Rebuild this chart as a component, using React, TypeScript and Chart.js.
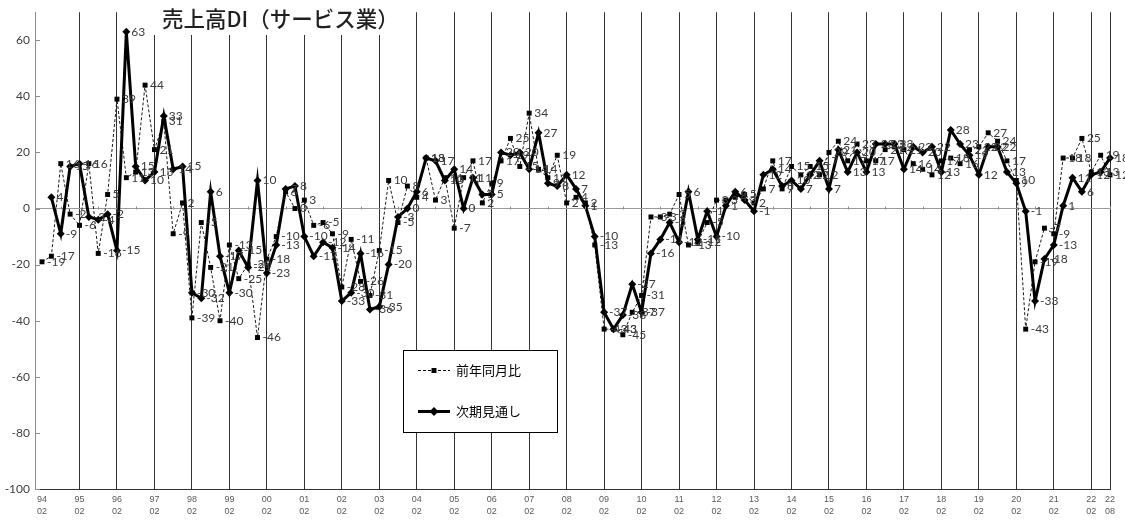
import React, { useEffect, useRef } from 'react';
import { Chart, registerables } from 'chart.js';

Chart.register(...registerables);

const titleText = '売上高DI（サービス業）';
const seriesNames = ['前年同月比', '次期見通し'];

const years = ['94','95','96','97','98','99','00','01','02','03','04','05','06','07','08','09','10','11','12','13','14','15','16','17','18','19','20','21','22'];
const quarterMonths = ['02','05','08','11'];
const lastCategory = '22/08';

const categories: string[] = [];
for (const y of years) {
  for (const m of quarterMonths) {
    if (categories.length && categories[categories.length - 1] === lastCategory) break;
    categories.push(`${y}/${m}`);
  }
}

// 前年同月比 (dashed, squares)
const prevYearValues: (number | null)[] = [
  -19, -17, 16, -2, -6, 16, -16, 5, 39,
  11, 13, 44, 21, 31, -9, 2, -39, -5, -21, -40,
  -13, -25, -20, -46, -18, -10, 6, 0, 3, -6,
  -5, -9, -28, -11, -26, -31, -15, 10, -5, 8,
  4, 18, 3, 11, -7, 11, 17, 2, 9, 17,
  25, 15, 34, 14, 11, 19, 2, 4, 2, -13,
  -43, -43, -45, -37, -31, -3, -3, -2, 5, -13,
  -12, -5, 3, 3, 4, 5, 2, 7, 17, 7,
  15, 12, 15, 12, 20, 24, 17, 23, 17, 17,
  21, 22, 21, 16, 14, 12, 17, 18, 16, 21,
  22, 27, 24, 17, 10, -43, -19, -7, -9, 18,
  18, 25, 13, 19, 12,
];

// 次期見通し (thick solid, diamonds)
const outlookValues: (number | null)[] = [
  null, 4, -9, 15, 16, -3, -4, -2, -15,
  63, 15, 10, 13, 33, 14, 15, -30, -32, 6, -17,
  -30, -15, -21, 10, -23, -13, 7, 8, -10, -17,
  -12, -14, -33, -30, -16, -36, -35, -20, -3, 0,
  6, 18, 17, 10, 14, 0, 11, 5, 5, 20,
  19, 20, 14, 27, 9, 8, 12, 7, 1, -10,
  -37, -43, -38, -27, -37, -16, -11, -5, -12, 6,
  -11, -1, -10, 1, 6, 3, -1, 12, 14, 8,
  10, 7, 12, 17, 7, 21, 13, 20, 13, 23,
  23, 23, 14, 22, 20, 22, 13, 28, 23, 19,
  12, 22, 22, 13, 9, -1, -33, -18, -13, 1,
  11, 6, 12, 13, 18,
];

const yTickValues = [-100, -80, -60, -40, -20, 0, 20, 40, 60];
const yMin = -100;
const yMax = 70;

// x ticks: every "02" quarter plus the last period
const xTickIndexes: number[] = categories
  .map((c, i) => (c.endsWith('/02') || i === categories.length - 1 ? i : -1))
  .filter((i) => i >= 0);
const xTickLabels: string[][] = xTickIndexes.map((i) => categories[i].split('/'));

const LABEL_FONT = '12px Lato, "Liberation Sans", sans-serif';
const CJK_FONT = '"Noto Sans CJK JP", "Noto Sans", sans-serif';

const dataLabelPlugin = {
  id: 'dataLabelsCustom',
  afterDatasetsDraw(chart: any) {
    const ctx = chart.ctx;
    ctx.save();
    ctx.font = LABEL_FONT;
    ctx.fillStyle = '#3a3a3a';
    ctx.textBaseline = 'middle';
    ctx.textAlign = 'left';
    chart.data.datasets.forEach((ds: any, di: number) => {
      const meta = chart.getDatasetMeta(di);
      meta.data.forEach((el: any, i: number) => {
        const v = ds.data[i] && ds.data[i].y;
        if (v === null || v === undefined || el.skip) return;
        ctx.fillText(String(v), el.x + 5, el.y);
      });
    });
    ctx.restore();
  },
};

function drawSquare(ctx: CanvasRenderingContext2D, x: number, y: number, s: number) {
  ctx.fillRect(x - s / 2, y - s / 2, s, s);
}
function drawDiamond(ctx: CanvasRenderingContext2D, x: number, y: number, r: number) {
  ctx.beginPath();
  ctx.moveTo(x, y - r);
  ctx.lineTo(x + r, y);
  ctx.lineTo(x, y + r);
  ctx.lineTo(x - r, y);
  ctx.closePath();
  ctx.fill();
}

const overlayPlugin = {
  id: 'overlayCustom',
  afterDraw(chart: any) {
    const { ctx, chartArea, scales } = chart;
    const xs = scales.x;
    const ys = scales.y;
    ctx.save();
    // small tick marks on the zero line
    const y0 = Math.round(ys.getPixelForValue(0)) + 0.5;
    ctx.strokeStyle = '#8c8c8c';
    ctx.lineWidth = 1;
    for (let i = 2; i < categories.length; i += 4) {
      const px = Math.round(xs.getPixelForValue(i)) + 0.5;
      ctx.beginPath();
      ctx.moveTo(px, y0 - 3);
      ctx.lineTo(px, y0);
      ctx.stroke();
    }
    // inward ticks on the value axis
    yTickValues.forEach((v) => {
      const py = Math.round(ys.getPixelForValue(v)) + 0.5;
      ctx.beginPath();
      ctx.moveTo(chartArea.left, py);
      ctx.lineTo(chartArea.left + 5, py);
      ctx.stroke();
    });

    // title box
    ctx.fillStyle = '#ffffff';
    ctx.fillRect(149, 0, 253, 35);
    ctx.fillStyle = '#1f1f1f';
    ctx.font = `500 21.5px ${CJK_FONT}`;
    ctx.textBaseline = 'middle';
    ctx.textAlign = 'left';
    ctx.fillText(titleText, 162, 19);

    // legend box
    const lx = 403.5, ly = 350.5, lw = 154, lh = 82;
    ctx.fillStyle = '#ffffff';
    ctx.fillRect(lx, ly, lw, lh);
    ctx.strokeStyle = '#000';
    ctx.lineWidth = 1;
    ctx.strokeRect(lx, ly, lw, lh);

    const r1 = 370.5, r2 = 411.5;
    // dashed entry
    ctx.setLineDash([3, 2]);
    ctx.beginPath();
    ctx.moveTo(418, r1);
    ctx.lineTo(450, r1);
    ctx.stroke();
    ctx.setLineDash([]);
    ctx.fillStyle = '#000';
    drawSquare(ctx, 434, r1, 5);
    // solid entry
    ctx.lineWidth = 3;
    ctx.beginPath();
    ctx.moveTo(418, r2);
    ctx.lineTo(450, r2);
    ctx.stroke();
    drawDiamond(ctx, 434, r2, 4.5);

    ctx.fillStyle = '#000';
    ctx.font = `13px ${CJK_FONT}`;
    ctx.fillText(seriesNames[0], 456, r1);
    ctx.fillText(seriesNames[1], 456, r2);
    ctx.restore();
  },
};

export default function App() {
  const canvasRef = useRef<HTMLCanvasElement>(null);

  useEffect(() => {
    const canvas = canvasRef.current;
    if (!canvas) return;
    const chart = new Chart(canvas, {
      type: 'line',
      data: {
        datasets: [
          {
            label: seriesNames[0],
            data: prevYearValues.map((v, i) => ({ x: i, y: v })),
            borderColor: '#1a1a1a',
            borderWidth: 1,
            borderDash: [3, 2],
            pointStyle: 'rect',
            pointRadius: 3.5,
            pointBackgroundColor: '#000',
            pointBorderColor: '#000',
            pointBorderWidth: 0,
            tension: 0,
            order: 1,
            clip: false,
          } as any,
          {
            label: seriesNames[1],
            data: outlookValues.map((v, i) => ({ x: i, y: v })),
            borderColor: '#000',
            borderWidth: 3,
            pointStyle: 'rectRot',
            pointRadius: 4,
            pointBackgroundColor: '#000',
            pointBorderColor: '#000',
            pointBorderWidth: 0,
            tension: 0,
            order: 0,
            clip: false,
          } as any,
        ],
      },
      options: {
        animation: false,
        responsive: false,
        devicePixelRatio: 1,
        layout: { padding: { left: 0, right: 15, top: 12, bottom: 0 } },
        plugins: {
          legend: { display: false },
          tooltip: { enabled: false },
          title: { display: false },
        },
        scales: {
          x: {
            type: 'linear',
            min: -0.75,
            max: categories.length - 1,
            afterBuildTicks: (s: any) => {
              s.ticks = xTickIndexes.map((v) => ({ value: v }));
            },
            afterFit: (s: any) => {
              s.height = 31;
            },
            grid: {
              drawTicks: false,
              lineWidth: 1,
              color: (c: any) => (c.tick && c.tick.value === 0 ? 'rgba(0,0,0,0)' : '#333333'),
            },
            border: { display: true, color: '#333333' },
            ticks: {
              autoSkip: false,
              maxRotation: 0,
              padding: 5,
              color: '#595959',
              font: { family: '"Liberation Sans", sans-serif', size: 9, lineHeight: 1.3 },
              callback: (value: any) => {
                const k = xTickIndexes.indexOf(Number(value));
                return k >= 0 ? xTickLabels[k] : '';
              },
            },
          },
          y: {
            type: 'linear',
            min: yMin,
            max: yMax,
            afterBuildTicks: (s: any) => {
              s.ticks = yTickValues.map((v) => ({ value: v }));
            },
            afterFit: (s: any) => {
              s.width = 35;
            },
            grid: {
              drawTicks: false,
              color: (c: any) => (c.tick && c.tick.value === 0 ? '#9a9a9a' : 'rgba(0,0,0,0)'),
            },
            border: { display: true, color: '#8c8c8c' },
            ticks: {
              padding: 5,
              color: '#404040',
              font: { family: 'Lato, "Liberation Sans", sans-serif', size: 12 },
            },
          },
        },
      } as any,
      plugins: [dataLabelPlugin, overlayPlugin],
    });
    return () => chart.destroy();
  }, []);

  return (
    <div style={{ position: 'fixed', left: 0, top: 0, width: 1125, height: 520, background: '#fff' }}>
      <canvas ref={canvasRef} width={1125} height={520} style={{ width: 1125, height: 520, display: 'block' }} />
    </div>
  );
}
